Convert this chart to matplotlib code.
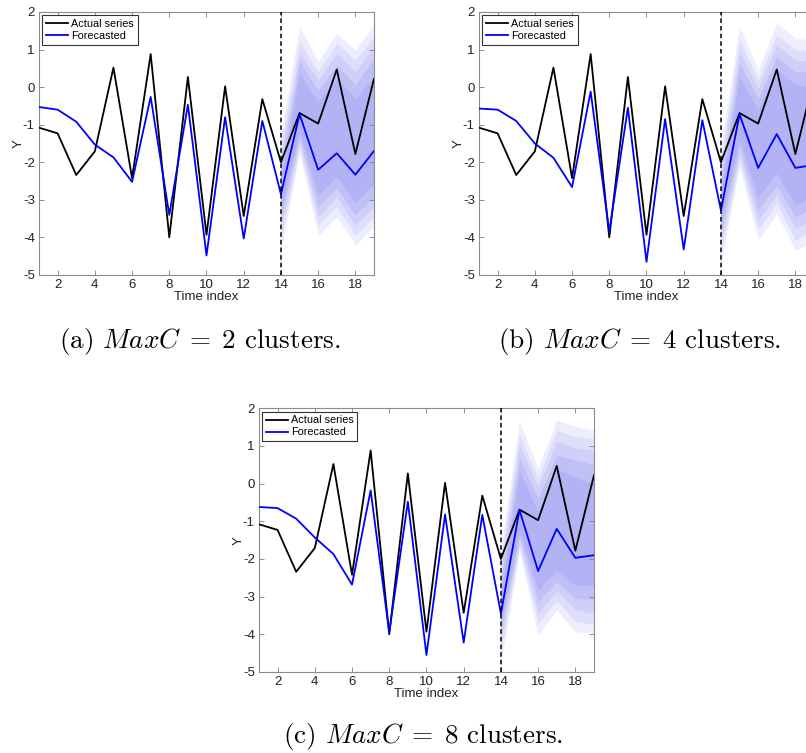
import matplotlib
matplotlib.use('Agg')
import matplotlib.pyplot as plt

plt.rcParams['font.family'] = ['Liberation Sans', 'DejaVu Sans']
plt.rcParams['axes.unicode_minus'] = False
plt.rcParams['mathtext.fontset'] = 'cm'

# time axis
t = list(range(1, 20))
t_fan = [14, 15, 16, 17, 18, 19]

# actual series (same in all panels)
actual = [-1.08, -1.23, -2.34, -1.71, 0.52, -2.42, 0.88, -4.0, 0.27, -3.93,
          0.02, -3.43, -0.32, -2.0, -0.69, -0.97, 0.47, -1.78, 0.22]

# forecasts for MaxC = 2, 4, 8
fc_a = [-0.53, -0.6, -0.92, -1.53, -1.87, -2.52, -0.26, -3.4, -0.47, -4.48,
        -0.8, -4.03, -0.9, -2.85, -0.72, -2.2, -1.76, -2.33, -1.7]
fc_b = [-0.57, -0.6, -0.9, -1.5, -1.88, -2.66, -0.12, -3.85, -0.55, -4.65,
        -0.85, -4.32, -0.88, -3.28, -0.72, -2.15, -1.25, -2.15, -2.07]
fc_c = [-0.62, -0.65, -0.93, -1.43, -1.87, -2.68, -0.18, -3.95, -0.48, -4.55,
        -0.82, -4.22, -0.83, -3.45, -0.7, -2.32, -1.2, -1.97, -1.9]

# fan bands, outer -> inner, values at t = 14..19
upper_a = [[-1.2, 1.61, 0.68, 1.43, 0.99, 1.65],
           [-1.5, 1.21, 0.41, 1.17, 0.72, 1.34],
           [-1.8, 0.90, 0.19, 0.90, 0.41, 1.08],
           [-2.1, 0.68, -0.08, 0.59, 0.06, 0.77],
           [-2.4, 0.37, -0.39, 0.23, -0.30, 0.28]]
lower_a = [[-4.34, -1.76, -3.94, -3.45, -4.20, -3.71],
           [-4.05, -1.62, -3.67, -3.18, -3.94, -3.45],
           [-3.75, -1.48, -3.45, -2.92, -3.67, -3.18],
           [-3.45, -1.34, -3.18, -2.69, -3.40, -2.92],
           [-3.20, -1.20, -2.87, -2.38, -3.09, -2.56]]

upper_b = [[-1.6, 1.61, 0.46, 1.70, 1.30, 1.25],
           [-1.9, 1.25, 0.19, 1.39, 0.99, 1.0],
           [-2.2, 0.94, -0.03, 1.12, 0.72, 0.7],
           [-2.5, 0.63, -0.30, 0.81, 0.41, 0.4],
           [-2.8, 0.28, -0.61, 0.46, 0.06, 0.0]]
lower_b = [[-4.70, -2.12, -4.07, -3.36, -4.34, -4.1],
           [-4.40, -1.95, -3.80, -3.09, -4.07, -3.8],
           [-4.10, -1.80, -3.54, -2.87, -3.76, -3.5],
           [-3.85, -1.60, -3.27, -2.61, -3.45, -3.2],
           [-3.60, -1.40, -2.92, -2.29, -3.14, -2.9]]

upper_c = [[-1.7, 1.65, 0.41, 1.69, 1.51, 1.42],
           [-2.0, 1.29, 0.14, 1.42, 1.25, 1.20],
           [-2.3, 1.03, -0.08, 1.12, 0.94, 0.89],
           [-2.6, 0.67, -0.39, 0.76, 0.63, 0.50],
           [-2.9, 0.32, -0.74, 0.36, 0.19, -0.04]]
lower_c = [[-4.80, -1.80, -4.02, -3.35, -3.93, -3.97],
           [-4.45, -1.68, -3.71, -3.10, -3.65, -3.75],
           [-4.15, -1.55, -3.44, -2.85, -3.35, -3.45],
           [-3.90, -1.40, -3.13, -2.60, -3.05, -3.10],
           [-3.65, -1.25, -2.82, -2.30, -2.70, -2.70]]

band_colors = ['#EDEDFD', '#DEDEFB', '#CFCFF9', '#C0C0F7', '#B2B2F5']

captions = [r'(a) $MaxC\;=\;2$ clusters.',
            r'(b) $MaxC\;=\;4$ clusters.',
            r'(c) $MaxC\;=\;8$ clusters.']

fig = plt.figure(figsize=(8.06, 7.53), dpi=100)

W = 0.4156
positions = [[0.0484, 0.6348, W, 0.3493],
             [0.5943, 0.6348, W, 0.3493],
             [0.3213, 0.1076, W, 0.3502]]
caption_xy = [(0.248, 0.547), (0.794, 0.547), (0.525, 0.022)]

panels = [(fc_a, upper_a, lower_a), (fc_b, upper_b, lower_b), (fc_c, upper_c, lower_c)]

for i, (fc, up, lo) in enumerate(panels):
    ax = fig.add_axes(positions[i])
    for k in range(len(up)):
        ax.fill_between(t_fan, lo[k], up[k], color=band_colors[k], lw=0, zorder=1)
    ax.plot(t, actual, color='black', lw=1.3, label='Actual series', zorder=3)
    ax.plot(t, fc, color='#0000FF', lw=1.3, label='Forecasted', zorder=3)
    ax.axvline(14, color='black', ls='--', lw=1.1, dashes=(3, 2), zorder=4)

    ax.set_xlim(1, 19)
    ax.set_ylim(-5, 2)
    ax.set_xticks(range(2, 19, 2))
    ax.set_yticks(range(-5, 3))
    ax.tick_params(direction='in', top=True, right=True, length=3.5, width=0.6,
                   labelsize=9.5, colors='#7f7f7f', labelcolor='#222222', pad=3)
    for s in ax.spines.values():
        s.set_color('#8c8c8c')
        s.set_linewidth(0.8)
    ax.set_xlabel('Time index', fontsize=9.5, labelpad=0, color='#222222')
    ax.set_ylabel('Y', fontsize=9.5, labelpad=-1.5, color='#222222')

    leg = ax.legend(loc='upper left', fontsize=7.8, handlelength=2.0, handletextpad=0.3,
                    borderpad=0.35, labelspacing=0.2, fancybox=False,
                    borderaxespad=0.3, framealpha=1)
    leg.get_frame().set_edgecolor('#333333')
    leg.get_frame().set_linewidth(0.8)

    fig.text(caption_xy[i][0], caption_xy[i][1], captions[i], fontsize=19.5,
             family='cmr10', ha='center', va='center')

fig.savefig('out.png', dpi=100)
